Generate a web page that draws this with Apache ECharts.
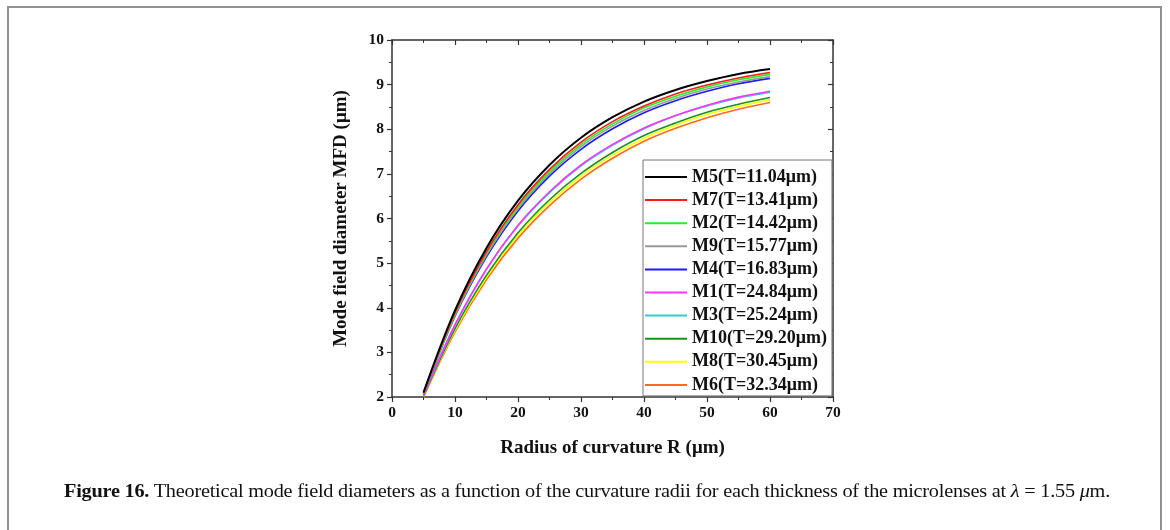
<!DOCTYPE html>
<html>
<head>
<meta charset="utf-8">
<script src="https://cdn.jsdelivr.net/npm/echarts@6/dist/echarts.min.js"></script>
<style>
  html, body { margin: 0; padding: 0; background: #fff; }
  #wrap { position: relative; width: 1170px; height: 530px; overflow: hidden; }
  #frame {
    position: absolute; left: 7px; top: 6px; width: 1155px; height: 560px;
    border: 2px solid #909090; box-sizing: border-box;
  }
  #chart { position: absolute; left: 0; top: 0; width: 1170px; height: 530px; }
  #caption {
    position: absolute; left: 64px; top: 481px; white-space: nowrap;
    font-family: "Liberation Serif", "DejaVu Serif", serif; font-size: 18px; color: #111;
    transform-origin: 0 0; letter-spacing: -0.2px;
  }
  #caption b { font-weight: bold; }
</style>
</head>
<body>
<div id="wrap">
  <div id="frame"></div>
  <div id="chart"></div>
  <div id="caption"><b>Figure 16.</b> Theoretical mode field diameters as a function of the curvature radii for each thickness of the microlenses at <i>λ</i> = 1.55 <i>μ</i>m.</div>
</div>
<script>
  // radius of curvature R (µm)
  const radius = [5, 10, 15, 20, 25, 30, 35, 40, 45, 50, 55, 60];

  // MFD (µm), one list per microlens
  const m5  = [2.10, 3.94, 5.34, 6.40, 7.20, 7.81, 8.27, 8.62, 8.88, 9.08, 9.24, 9.35];
  const m7  = [2.09, 3.89, 5.26, 6.31, 7.10, 7.71, 8.17, 8.52, 8.79, 8.99, 9.15, 9.27];
  const m2  = [2.08, 3.86, 5.23, 6.27, 7.05, 7.66, 8.12, 8.48, 8.74, 8.95, 9.11, 9.23];
  const m9  = [2.08, 3.83, 5.18, 6.22, 7.00, 7.61, 8.07, 8.42, 8.69, 8.90, 9.06, 9.18];
  const m4  = [2.07, 3.81, 5.14, 6.17, 6.95, 7.55, 8.01, 8.37, 8.64, 8.85, 9.02, 9.14];
  const m1  = [2.03, 3.62, 4.87, 5.85, 6.60, 7.20, 7.66, 8.03, 8.31, 8.54, 8.72, 8.85];
  const m3  = [2.03, 3.61, 4.86, 5.83, 6.58, 7.18, 7.64, 8.01, 8.30, 8.52, 8.70, 8.83];
  const m10 = [2.01, 3.53, 4.73, 5.68, 6.42, 7.01, 7.48, 7.86, 8.14, 8.38, 8.56, 8.71];
  const m8  = [2.01, 3.50, 4.69, 5.63, 6.36, 6.95, 7.42, 7.80, 8.09, 8.33, 8.51, 8.66];
  const m6  = [2.00, 3.46, 4.63, 5.56, 6.29, 6.88, 7.35, 7.73, 8.02, 8.26, 8.45, 8.60];

  const names = ['M5(T=11.04μm)', 'M7(T=13.41μm)', 'M2(T=14.42μm)', 'M9(T=15.77μm)', 'M4(T=16.83μm)',
                 'M1(T=24.84μm)', 'M3(T=25.24μm)', 'M10(T=29.20μm)', 'M8(T=30.45μm)', 'M6(T=32.34μm)'];
  const values = [m5, m7, m2, m9, m4, m1, m3, m10, m8, m6];
  const colors = ['#000000', '#ff1a1a', '#22ee22', '#9a9a9a', '#1a1aff',
                  '#ff33ff', '#33cccc', '#1a921a', '#ffff00', '#ff6a1a'];

  const serif = '"Liberation Serif", "Times New Roman", serif';
  const axisColor = '#333';

  const chart = echarts.init(document.getElementById('chart'), null, { renderer: 'canvas' });

  function xAx(pos, show) {
    return {
      type: 'value', position: pos, min: 0, max: 70, interval: 10,
      axisLine: { show: true, onZero: false, lineStyle: { color: axisColor, width: 1.5 } },
      axisTick: { show: true, inside: pos === 'top', length: 5, lineStyle: { color: axisColor, width: 1.2 } },
      minorTick: { show: true, splitNumber: 2, length: 3, lineStyle: { color: axisColor, width: 1 } },
      axisLabel: { show: show, color: '#111', fontFamily: serif, fontWeight: 'bold', fontSize: 15.5, margin: 8 },
      splitLine: { show: false },
      name: show ? 'Radius of curvature R (μm)' : '',
      nameLocation: 'middle', nameGap: 42,
      nameTextStyle: { color: '#111', fontFamily: serif, fontWeight: 'bold', fontSize: 19 }
    };
  }
  function yAx(pos, show) {
    return {
      type: 'value', position: pos, min: 2, max: 10, interval: 1,
      axisLine: { show: true, onZero: false, lineStyle: { color: axisColor, width: 1.5 } },
      axisTick: { show: true, inside: pos === 'right', length: 5, lineStyle: { color: axisColor, width: 1.2 } },
      minorTick: { show: true, splitNumber: 2, length: 3, lineStyle: { color: axisColor, width: 1 } },
      axisLabel: { show: show, color: '#111', fontFamily: serif, fontWeight: 'bold', fontSize: 15.5, margin: 8 },
      splitLine: { show: false },
      name: show ? 'Mode field diameter MFD (μm)' : '',
      nameLocation: 'middle', nameGap: 41,
      nameTextStyle: { color: '#111', fontFamily: serif, fontWeight: 'bold', fontSize: 19 }
    };
  }

  const series = names.map((n, i) => ({
    name: n,
    type: 'line',
    data: radius.map((r, j) => [r, values[i][j]]),
    smooth: 0.35,
    symbol: 'none',
    color: colors[i],
    lineStyle: { width: i === 0 ? 2 : 1.6, color: colors[i] },
    z: 20 - i
  }));

  const option = {
    animation: false,
    grid: { left: 392, right: 337, top: 40, bottom: 133 },
    xAxis: [xAx('bottom', true), xAx('top', false)],
    yAxis: [yAx('left', true), yAx('right', false)],
    legend: {
      orient: 'vertical',
      left: 643, top: 160,
      padding: [8, 5, 2, 2],
      backgroundColor: '#fff',
      borderColor: '#777', borderWidth: 1,
      icon: 'rect',
      itemWidth: 42, itemHeight: 2,
      itemGap: 5.1,
      data: names.map((n, i) => ({ name: n, itemStyle: { color: colors[i] } })),
      textStyle: { color: '#111', fontFamily: serif, fontWeight: 'bold', fontSize: 18, lineHeight: 18, padding: [0, 0, 0, 0] }
    },
    series: series
  };
  chart.setOption(option);

  // fit the caption width to the figure
  const cap = document.getElementById('caption');
  const w = cap.getBoundingClientRect().width;
  cap.style.transform = 'scaleX(' + (1046 / w) + ')';
</script>
</body>
</html>
